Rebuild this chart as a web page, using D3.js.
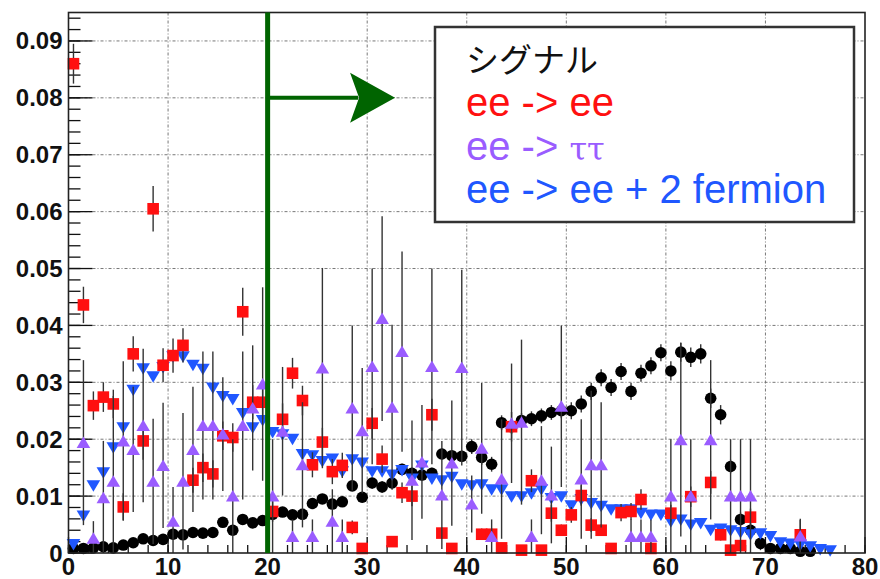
<!DOCTYPE html>
<html>
<head>
<meta charset="utf-8">
<script src="https://cdn.jsdelivr.net/npm/d3@7"></script>
<style>
  body { margin: 0; background: #fff; }
  svg { display: block; }
</style>
</head>
<body>
<svg id="chart" width="880" height="579"></svg>
<script>
// tick values / labels
const xTicks = [0, 10, 20, 30, 40, 50, 60, 70, 80];
const yTicks = [0, 0.01, 0.02, 0.03, 0.04, 0.05, 0.06, 0.07, 0.08, 0.09];
const yTickLabels = ['0', '0.01', '0.02', '0.03', '0.04', '0.05', '0.06', '0.07', '0.08', '0.09'];

// signal (black circles), one value per unit-wide bin starting at 0
const signal = [
  0.0008, 0.0008, 0.0009, 0.0011, 0.0009, 0.0014, 0.0018, 0.0025, 0.0022, 0.0024,
  0.0033, 0.0032, 0.0036, 0.0035, 0.0036, 0.0054, 0.0040, 0.0059, 0.0053, 0.0057,
  0.0068, 0.0072, 0.0067, 0.0068, 0.0087, 0.0095, 0.0086, 0.0090, 0.0118, 0.0098,
  0.0123, 0.0116, 0.0123, 0.0147, 0.0140, 0.0137, 0.0140, 0.0174, 0.0171, 0.0170,
  0.0187, 0.0168, 0.0156, 0.0229, 0.0222, 0.0233, 0.0236, 0.0241, 0.0247, 0.0250,
  0.0250, 0.0262, 0.0284, 0.0308, 0.0291, 0.0319, 0.0284, 0.0316, 0.0329, 0.0352,
  0.0320, 0.0353, 0.0344, 0.0350, 0.0272, 0.0243, 0.0152, 0.0059, 0.0040, 0.0017,
  0.0008, 0.0008, 0.0008, 0.0003, 0.0003, null, null, null, null, null
];
const signalErr = [
  0.0004, 0.0004, 0.0004, 0.0004, 0.0004, 0.0004, 0.0004, 0.0004, 0.0004, 0.0004,
  0.0006, 0.0006, 0.0006, 0.0006, 0.0006, 0.0006, 0.0006, 0.0006, 0.0006, 0.0006,
  0.0008, 0.0008, 0.0008, 0.0008, 0.0008, 0.0008, 0.0008, 0.0008, 0.0008, 0.0008,
  0.0010, 0.0010, 0.0010, 0.0010, 0.0010, 0.0010, 0.0010, 0.0010, 0.0010, 0.0010,
  0.0013, 0.0013, 0.0013, 0.0013, 0.0013, 0.0013, 0.0013, 0.0013, 0.0013, 0.0013,
  0.0015, 0.0015, 0.0015, 0.0015, 0.0015, 0.0015, 0.0015, 0.0015, 0.0015, 0.0015,
  0.0017, 0.0017, 0.0017, 0.0017, 0.0017, 0.0017, 0.0012, 0.0012, 0.0012, 0.0012,
  0.0006, 0.0006, 0.0006, 0.0006, 0.0006, null, null, null, null, null
];

// ee -> ee (red squares)
const eeEE = [
  0.0860, 0.0436, 0.0259, 0.0274, 0.0262, 0.0081, 0.0350, 0.0197, 0.0605, 0.0330,
  0.0347, 0.0365, 0.0128, 0.0150, 0.0139, 0.0206, 0.0203, 0.0424, 0.0265, 0.0265,
  0.0073, 0.0235, 0.0316, 0.0268, 0.0155, 0.0195, 0.0143, 0.0154, 0.0045, 0.0008,
  0.0228, 0.0165, 0.0020, 0.0106, 0.0100, null, 0.0243, 0.0035, 0.0008, null,
  null, 0.0033, 0.0033, 0.0009, 0.0222, 0.0005, 0.0127, 0.0005, 0.0070, 0.0040,
  0.0067, 0.0101, 0.0049, 0.0040, 0.0008, 0.0071, 0.0073, 0.0094, 0.0008, null,
  0.0070, null, 0.0099, null, 0.0124, 0.0032, 0.0005, 0.0013, 0.0063, null,
  null, null, null, 0.0032, null, null, null, null, null, null
];
const eeEEErr = [
  0.0035, 0.0032, 0.0025, 0.0026, 0.0025, 0.0024, 0.0031, 0.0033, 0.0040, 0.0030,
  0.0030, 0.0030, 0.0022, 0.0025, 0.0024, 0.0025, 0.0025, 0.0042, 0.0030, 0.0030,
  0.0018, 0.0028, 0.0027, 0.0026, 0.0022, 0.0025, 0.0022, 0.0022, 0.0012, 0.0005,
  0.0027, 0.0024, 0.0008, 0.0018, 0.0018, null, 0.0028, 0.0010, 0.0005, null,
  null, 0.0010, 0.0010, 0.0005, 0.0026, 0.0004, 0.0020, 0.0004, 0.0015, 0.0010,
  0.0014, 0.0018, 0.0012, 0.0010, 0.0005, 0.0015, 0.0015, 0.0018, 0.0005, null,
  0.0015, null, 0.0018, null, 0.0020, 0.0010, 0.0005, 0.0007, 0.0015, null,
  null, null, null, 0.0026, null, null, null, null, null, null
];

// ee -> tautau (violet up triangles)
const eeTauTau = [
  null, 0.0194, 0.0026, 0.0097, 0.0126, 0.0197, 0.0182, 0.0224, 0.0126, 0.0154,
  0.0056, 0.0126, 0.0182, 0.0224, 0.0224, 0.0209, 0.0100, 0.0224, 0.0255, 0.0297,
  0.0100, 0.0214, 0.0029, 0.0155, 0.0029, 0.0325, 0.0056, 0.0029, 0.0255, 0.0215,
  0.0328, 0.0412, 0.0256, 0.0354, 0.0128, 0.0160, 0.0328, 0.0102, 0.0158, 0.0326,
  0.0086, 0.0184, 0.0029, 0.0130, 0.0228, 0.0230, 0.0029, 0.0128, 0.0102, 0.0258,
  null, 0.0130, 0.0155, 0.0155, null, null, 0.0029, 0.0029, 0.0029, null,
  0.0100, 0.0199, 0.0100, null, 0.0199, null, 0.0100, 0.0100, 0.0100, null,
  null, null, null, 0.0030, null, null, null, null, null, null
];
const eeTauTauErr = [
  null, 0.0145, 0.0030, 0.0100, 0.0150, 0.0140, 0.0110, 0.0135, 0.0110, 0.0110,
  0.0060, 0.0120, 0.0110, 0.0130, 0.0130, 0.0100, 0.0100, 0.0130, 0.0110, 0.0170,
  0.0100, 0.0113, 0.0030, 0.0110, 0.0030, 0.0176, 0.0056, 0.0030, 0.0145, 0.0110,
  0.0172, 0.0180, 0.0145, 0.0176, 0.0105, 0.0100, 0.0172, 0.0095, 0.0110, 0.0172,
  0.0050, 0.0115, 0.0030, 0.0105, 0.0105, 0.0145, 0.0030, 0.0095, 0.0085, 0.0142,
  null, 0.0105, 0.0130, 0.0110, null, null, 0.0030, 0.0030, 0.0030, null,
  0.0100, 0.0170, 0.0100, null, 0.0140, null, 0.0100, 0.0100, 0.0100, null,
  null, null, null, 0.0030, null, null, null, null, null, null
];

// ee -> ee + 2 fermion (blue down triangles)
const eeEE2f = [
  0.0015, 0.0065, 0.0118, 0.0141, 0.0185, 0.0220, 0.0286, 0.0324, 0.0310, 0.0326,
  0.0345, 0.0345, 0.0330, 0.0323, 0.0290, 0.0275, 0.0270, 0.0245, 0.0220, 0.0233,
  0.0212, 0.0208, 0.0200, 0.0173, 0.0171, 0.0161, 0.0165, 0.0143, 0.0164, 0.0158,
  0.0143, 0.0143, 0.0137, 0.0145, 0.0130, 0.0153, 0.0130, 0.0127, 0.0133, 0.0120,
  0.0118, 0.0120, 0.0111, 0.0111, 0.0099, 0.0099, 0.0104, 0.0111, 0.0096, 0.0099,
  0.0083, 0.0094, 0.0087, 0.0082, 0.0076, 0.0076, 0.0076, 0.0070, 0.0067, 0.0067,
  0.0055, 0.0058, 0.0049, 0.0052, 0.0040, 0.0042, 0.0039, 0.0036, 0.0032, 0.0034,
  0.0029, 0.0018, 0.0016, 0.0014, 0.0011, 0.0006, 0.0004, null, null, null
];

// cut line and arrow (data coordinates)
const cutX = 20;
const arrowY = 0.08;
const arrowTipX = 32.8;

const legendLabels = ['シグナル', 'ee -> ee', 'ee -> ', 'ee -> ee + 2 fermion'];
const legendColors = ['#111111', '#ff1010', '#9a5cff', '#2057ff'];

const svg = d3.select('#chart');
const W = 880, H = 579;
const frame = { left: 68.5, right: 865, top: 12.5, bottom: 553 };

const x = d3.scaleLinear().domain([0, 80]).range([frame.left, frame.right]);
const y = d3.scaleLinear().domain([0, 0.095]).range([frame.bottom, frame.top]);

svg.append('rect').attr('width', W).attr('height', H).attr('fill', '#fff');

// grid
const grid = svg.append('g').attr('class', 'grid')
  .attr('stroke', '#777').attr('stroke-width', 1).attr('stroke-dasharray', '3,2,1,2');
grid.selectAll('.gx').data(xTicks.slice(1, -1)).enter().append('line')
  .attr('x1', d => x(d)).attr('x2', d => x(d))
  .attr('y1', frame.top).attr('y2', frame.bottom);
grid.selectAll('.gy').data(yTicks.slice(1)).enter().append('line')
  .attr('x1', frame.left).attr('x2', frame.right)
  .attr('y1', d => y(d)).attr('y2', d => y(d));

// axes ticks (ROOT style, pointing into the frame)
const axisG = svg.append('g').attr('stroke', '#111').attr('stroke-width', 1.3);
const yMinor = d3.range(0, 0.0951, 0.002);
axisG.selectAll('.ymin').data(yMinor).enter().append('line')
  .attr('x1', frame.left).attr('x2', frame.left + 12)
  .attr('y1', d => y(d)).attr('y2', d => y(d));
axisG.selectAll('.ymaj').data(yTicks).enter().append('line')
  .attr('x1', frame.left).attr('x2', frame.left + 24)
  .attr('y1', d => y(d)).attr('y2', d => y(d));
const xMinor = d3.range(0, 80.01, 2);
axisG.selectAll('.xmin').data(xMinor).enter().append('line')
  .attr('x1', d => x(d)).attr('x2', d => x(d))
  .attr('y1', frame.bottom).attr('y2', frame.bottom - 8);
axisG.selectAll('.xmaj').data(xTicks).enter().append('line')
  .attr('x1', d => x(d)).attr('x2', d => x(d))
  .attr('y1', frame.bottom).attr('y2', frame.bottom - 16);

// labels
const labelFont = '"Liberation Sans", Arial, sans-serif';
svg.append('g').selectAll('text').data(yTicks).enter().append('text')
  .attr('x', frame.left - 6).attr('y', d => y(d) + 8.5)
  .attr('text-anchor', 'end')
  .attr('font-family', labelFont).attr('font-weight', 'bold').attr('font-size', 24)
  .attr('fill', '#111')
  .text((d, i) => yTickLabels[i]);
svg.append('g').selectAll('text').data(xTicks).enter().append('text')
  .attr('x', d => x(d)).attr('y', frame.bottom + 22)
  .attr('text-anchor', 'middle')
  .attr('font-family', labelFont).attr('font-weight', 'bold').attr('font-size', 24)
  .attr('fill', '#111')
  .text(d => d);

// series drawing helpers
const binX = i => x(i + 0.5);
const pts = (vals, errs) => vals
  .map((v, i) => ({ i, v, e: errs ? errs[i] : null }))
  .filter(d => d.v !== null);

function drawErrors(g, data) {
  g.selectAll('.err').data(data.filter(d => d.e)).enter().append('line')
    .attr('x1', d => binX(d.i)).attr('x2', d => binX(d.i))
    .attr('y1', d => y(Math.max(0, d.v - d.e)))
    .attr('y2', d => y(d.v + d.e))
    .attr('stroke', '#333').attr('stroke-width', 1.4);
}

const triUp = 'M0,-6L6.8,5.5L-6.8,5.5Z';
const triDown = 'M0,6L6.8,-5.5L-6.8,-5.5Z';

const plot = svg.append('g');

// signal
const gSig = plot.append('g');
const sigPts = pts(signal, signalErr);
drawErrors(gSig, sigPts);
gSig.selectAll('circle').data(sigPts).enter().append('circle')
  .attr('cx', d => binX(d.i)).attr('cy', d => y(d.v)).attr('r', 5.8)
  .attr('fill', '#000');

// ee -> ee + 2 fermion
const gBlue = plot.append('g');
gBlue.selectAll('path').data(pts(eeEE2f)).enter().append('path')
  .attr('d', triDown)
  .attr('transform', d => `translate(${binX(d.i)},${y(d.v)})`)
  .attr('fill', legendColors[3]);

// ee -> ee
const gRed = plot.append('g');
const redPts = pts(eeEE, eeEEErr);
drawErrors(gRed, redPts);
gRed.selectAll('rect').data(redPts).enter().append('rect')
  .attr('x', d => binX(d.i) - 5.8).attr('y', d => y(d.v) - 5.8)
  .attr('width', 11.6).attr('height', 11.6)
  .attr('fill', legendColors[1]);

// ee -> tautau
const gVio = plot.append('g');
const vioPts = pts(eeTauTau, eeTauTauErr);
drawErrors(gVio, vioPts);
gVio.selectAll('path').data(vioPts).enter().append('path')
  .attr('d', triUp)
  .attr('transform', d => `translate(${binX(d.i)},${y(d.v)})`)
  .attr('fill', legendColors[2]);

// frame
svg.append('rect')
  .attr('x', frame.left).attr('y', frame.top)
  .attr('width', frame.right - frame.left).attr('height', frame.bottom - frame.top)
  .attr('fill', 'none').attr('stroke', '#222').attr('stroke-width', 1.6);

// cut line + arrow
const green = '#006400';
svg.append('line')
  .attr('x1', x(cutX)).attr('x2', x(cutX))
  .attr('y1', frame.top).attr('y2', frame.bottom)
  .attr('stroke', green).attr('stroke-width', 5);
const ay = y(arrowY), tip = x(arrowTipX), base = tip - 45;
svg.append('line')
  .attr('x1', x(cutX)).attr('x2', base + 8)
  .attr('y1', ay).attr('y2', ay)
  .attr('stroke', green).attr('stroke-width', 4);
svg.append('path')
  .attr('d', `M${base},${ay - 25}L${tip},${ay}L${base},${ay + 25}L${base + 9},${ay}Z`)
  .attr('fill', green);

// legend
const lg = svg.append('g');
lg.append('rect')
  .attr('x', 435).attr('y', 27).attr('width', 419).attr('height', 195)
  .attr('fill', '#fff').attr('stroke', '#333').attr('stroke-width', 2.5);
const baselines = [72, 116, 160, 203];
lg.selectAll('text').data(legendLabels).enter().append('text')
  .attr('x', 466).attr('y', (d, i) => baselines[i])
  .attr('fill', (d, i) => legendColors[i])
  .attr('font-family', (d, i) => i === 0 ? '"Noto Sans CJK JP", sans-serif' : labelFont)
  .attr('font-size', (d, i) => i === 0 ? 33 : 40)
  .each(function (d, i) {
    const t = d3.select(this);
    t.append('tspan').text(d);
    if (i === 2) {
      t.append('tspan')
        .attr('font-family', '"DejaVu Serif", "Liberation Serif", serif')
        .attr('font-size', 32)
        .text('ττ');
    }
  });
</script>
</body>
</html>
